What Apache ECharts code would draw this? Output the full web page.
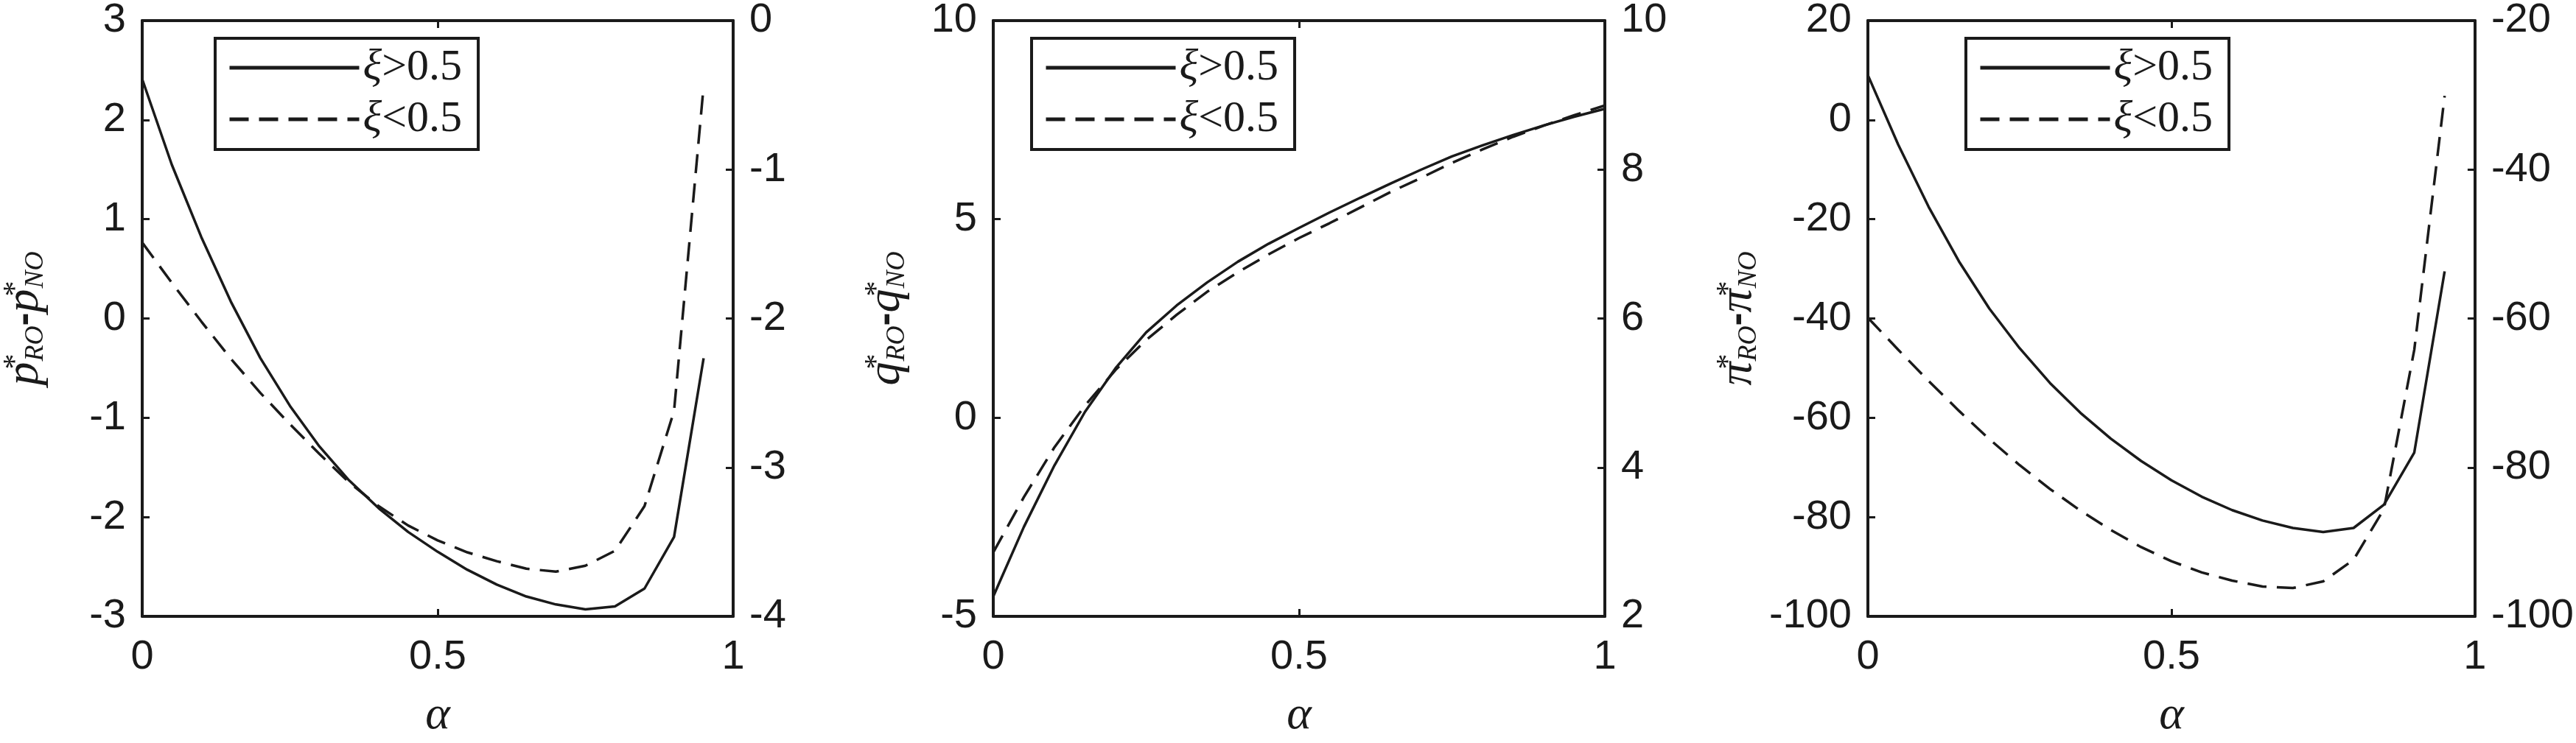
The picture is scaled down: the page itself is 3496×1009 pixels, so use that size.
<!DOCTYPE html>
<html>
<head>
<meta charset="utf-8">
<script src="https://cdn.jsdelivr.net/npm/echarts@6/dist/echarts.min.js"></script>
<style>
html,body{margin:0;padding:0;background:#fff;}
#c{width:3496px;height:1009px;}
</style>
</head>
<body>
<div id="c"></div>
<script>
// ---------- data ----------
const alphaA = [0,0.05,0.10,0.15,0.20,0.25,0.30,0.35,0.40,0.45,0.50,0.55,0.60,0.65,0.70,0.75,0.80,0.85,0.90,0.95];
const alphaB = [0,0.05,0.10,0.15,0.20,0.25,0.30,0.35,0.40,0.45,0.50,0.55,0.60,0.65,0.70,0.75,0.80,0.85,0.90,0.95,1.00];

// panel 1: p*RO - p*NO
const p_hi = [2.41,1.55,0.82,0.17,-0.40,-0.88,-1.29,-1.63,-1.91,-2.15,-2.35,-2.53,-2.68,-2.80,-2.88,-2.93,-2.90,-2.72,-2.20,-0.40];   // left axis
const p_lo = [-1.49,-1.76,-2.02,-2.27,-2.50,-2.71,-2.91,-3.10,-3.26,-3.39,-3.49,-3.57,-3.63,-3.68,-3.70,-3.66,-3.56,-3.26,-2.62,-0.44]; // right axis

// panel 2: q*RO - q*NO
const q_hi = [-4.5,-2.75,-1.2,0.15,1.25,2.15,2.83,3.41,3.93,4.38,4.78,5.17,5.54,5.90,6.25,6.58,6.86,7.12,7.36,7.58,7.78]; // left axis
const q_lo = [2.86,3.60,4.27,4.83,5.31,5.71,6.05,6.36,6.62,6.86,7.08,7.28,7.49,7.70,7.89,8.09,8.27,8.44,8.59,8.73,8.86]; // right axis

// panel 3: pi*RO - pi*NO
const pi_hi = [9.0,-5.0,-17.5,-28.5,-38.0,-46.0,-53.0,-59.0,-64.2,-68.7,-72.6,-75.9,-78.6,-80.7,-82.2,-83.0,-82.2,-77.5,-67.0,-30.5]; // left axis
const pi_lo = [-59.9,-64.2,-68.4,-72.4,-76.2,-79.7,-82.9,-85.8,-88.4,-90.7,-92.6,-94.1,-95.2,-96.0,-96.2,-95.3,-92.4,-85.6,-64.2,-30.1]; // right axis

const xTicks = {min:0, max:1, interval:0.5};
const yLeft  = [{min:-3,max:3,interval:1},{min:-5,max:10,interval:5},{min:-100,max:20,interval:20}];
const yRight = [{min:-4,max:0,interval:1},{min:2,max:10,interval:2},{min:-100,max:-20,interval:20}];
const yTitles = [['p','p'],['q','q'],['π','π']];
const nameHi = 'ξ>0.5', nameLo = 'ξ<0.5';

// ---------- layout ----------
const grids = [
  {left:163, top:24, width:832, height:832},
  {left:1348, top:24, width:830, height:832},
  {left:2535, top:24, width:826, height:829}
];
const legendLeft = [292, 1400, 2668];
const titleGap = [126, 112, 143];

const INK = '#1a1a1a';
const sans = '"Liberation Sans", Arial, Helvetica, sans-serif';
const serif = '"Liberation Serif", "Times New Roman", Times, serif';

const axisLine = {show:true, onZero:false, lineStyle:{color:INK, width:4}};
const tick = {show:true, inside:true, length:10, lineStyle:{color:INK, width:3}};
const lbl = {color:INK, fontFamily:sans, fontSize:56};

const titleRich = {
  p:{fontFamily:serif, fontStyle:'italic', fontSize:64, color:INK, lineHeight:66, verticalAlign:'middle'},
  sp:{fontFamily:serif, fontSize:42, color:INK, width:1, lineHeight:40, verticalAlign:'top'},
  sb:{fontFamily:serif, fontStyle:'italic', fontSize:36, color:INK, lineHeight:34, verticalAlign:'bottom'},
  m:{fontFamily:sans, fontWeight:'bold', fontSize:54, color:INK, lineHeight:66, verticalAlign:'middle'}
};

const xAxes = [], yAxes = [], series = [], legends = [];
grids.forEach((g, i) => {
  xAxes.push({
    type:'value', gridIndex:i, position:'bottom', min:xTicks.min, max:xTicks.max, interval:xTicks.interval,
    axisLine, axisTick:tick, splitLine:{show:false},
    axisLabel:Object.assign({margin:28}, lbl),
    name:'α', nameLocation:'middle', nameGap:103,
    nameTextStyle:{fontFamily:serif, fontStyle:'italic', fontSize:64, color:INK}
  });
  xAxes.push({
    type:'value', gridIndex:i, position:'top', min:xTicks.min, max:xTicks.max, interval:xTicks.interval,
    axisLine, axisTick:tick, splitLine:{show:false}, axisLabel:{show:false}
  });
  const t = yTitles[i];
  yAxes.push(Object.assign({
    type:'value', gridIndex:i, position:'left',
    axisLine, axisTick:tick, splitLine:{show:false},
    axisLabel:Object.assign({margin:22}, lbl),
    name:'{p|'+t[0]+'}{sp|*}{sb|RO}{m|-}{p|'+t[1]+'}{sp|*}{sb|NO}',
    nameLocation:'middle', nameRotate:90, nameGap:titleGap[i],
    nameTextStyle:{rich:titleRich}
  }, yLeft[i]));
  yAxes.push(Object.assign({
    type:'value', gridIndex:i, position:'right',
    axisLine, axisTick:tick, splitLine:{show:false},
    axisLabel:Object.assign({margin:22}, lbl)
  }, yRight[i]));
  legends.push({
    data:[nameHi, nameLo], orient:'vertical', left:legendLeft[i], top:52,
    padding:[9,22,10,17], itemGap:8, itemWidth:176, itemHeight:2,
    borderColor:INK, borderWidth:4, backgroundColor:'#fff',
    lineStyle:{width:5},
    itemStyle:{color:'rgba(0,0,0,0)', borderColor:'rgba(0,0,0,0)', borderWidth:0, opacity:0},
    formatter: n => '{x|ξ}{t|' + n.slice(1) + '}',
    textStyle:{color:INK, fontFamily:serif, fontSize:60, lineHeight:62,
      rich:{x:{fontFamily:serif, fontStyle:'italic', fontSize:60, color:INK, lineHeight:62},
            t:{fontFamily:serif, fontSize:60, color:INK, lineHeight:62}}}
  });
});

const xs = [alphaA, alphaB, alphaA];
const his = [p_hi, q_hi, pi_hi];
const los = [p_lo, q_lo, pi_lo];
for (let i = 0; i < 3; i++) {
  series.push({
    type:'line', name:nameHi, xAxisIndex:2*i, yAxisIndex:2*i, symbol:'none', smooth:false,
    lineStyle:{color:INK, width:3.5, type:'solid'}, itemStyle:{color:INK},
    data: xs[i].map((a, k) => [a, his[i][k]])
  });
  series.push({
    type:'line', name:nameLo, xAxisIndex:2*i, yAxisIndex:2*i+1, symbol:'none', smooth:false,
    lineStyle:{color:INK, width:3.5, type:[26,14]}, itemStyle:{color:INK},
    data: xs[i].map((a, k) => [a, los[i][k]])
  });
}

const chart = echarts.init(document.getElementById('c'), null, {renderer:'canvas'});
chart.setOption({
  animation:false,
  backgroundColor:'#fff',
  grid: grids.map(g => Object.assign({containLabel:false}, g)),
  xAxis:xAxes, yAxis:yAxes, legend:legends, series
});
</script>
</body>
</html>
